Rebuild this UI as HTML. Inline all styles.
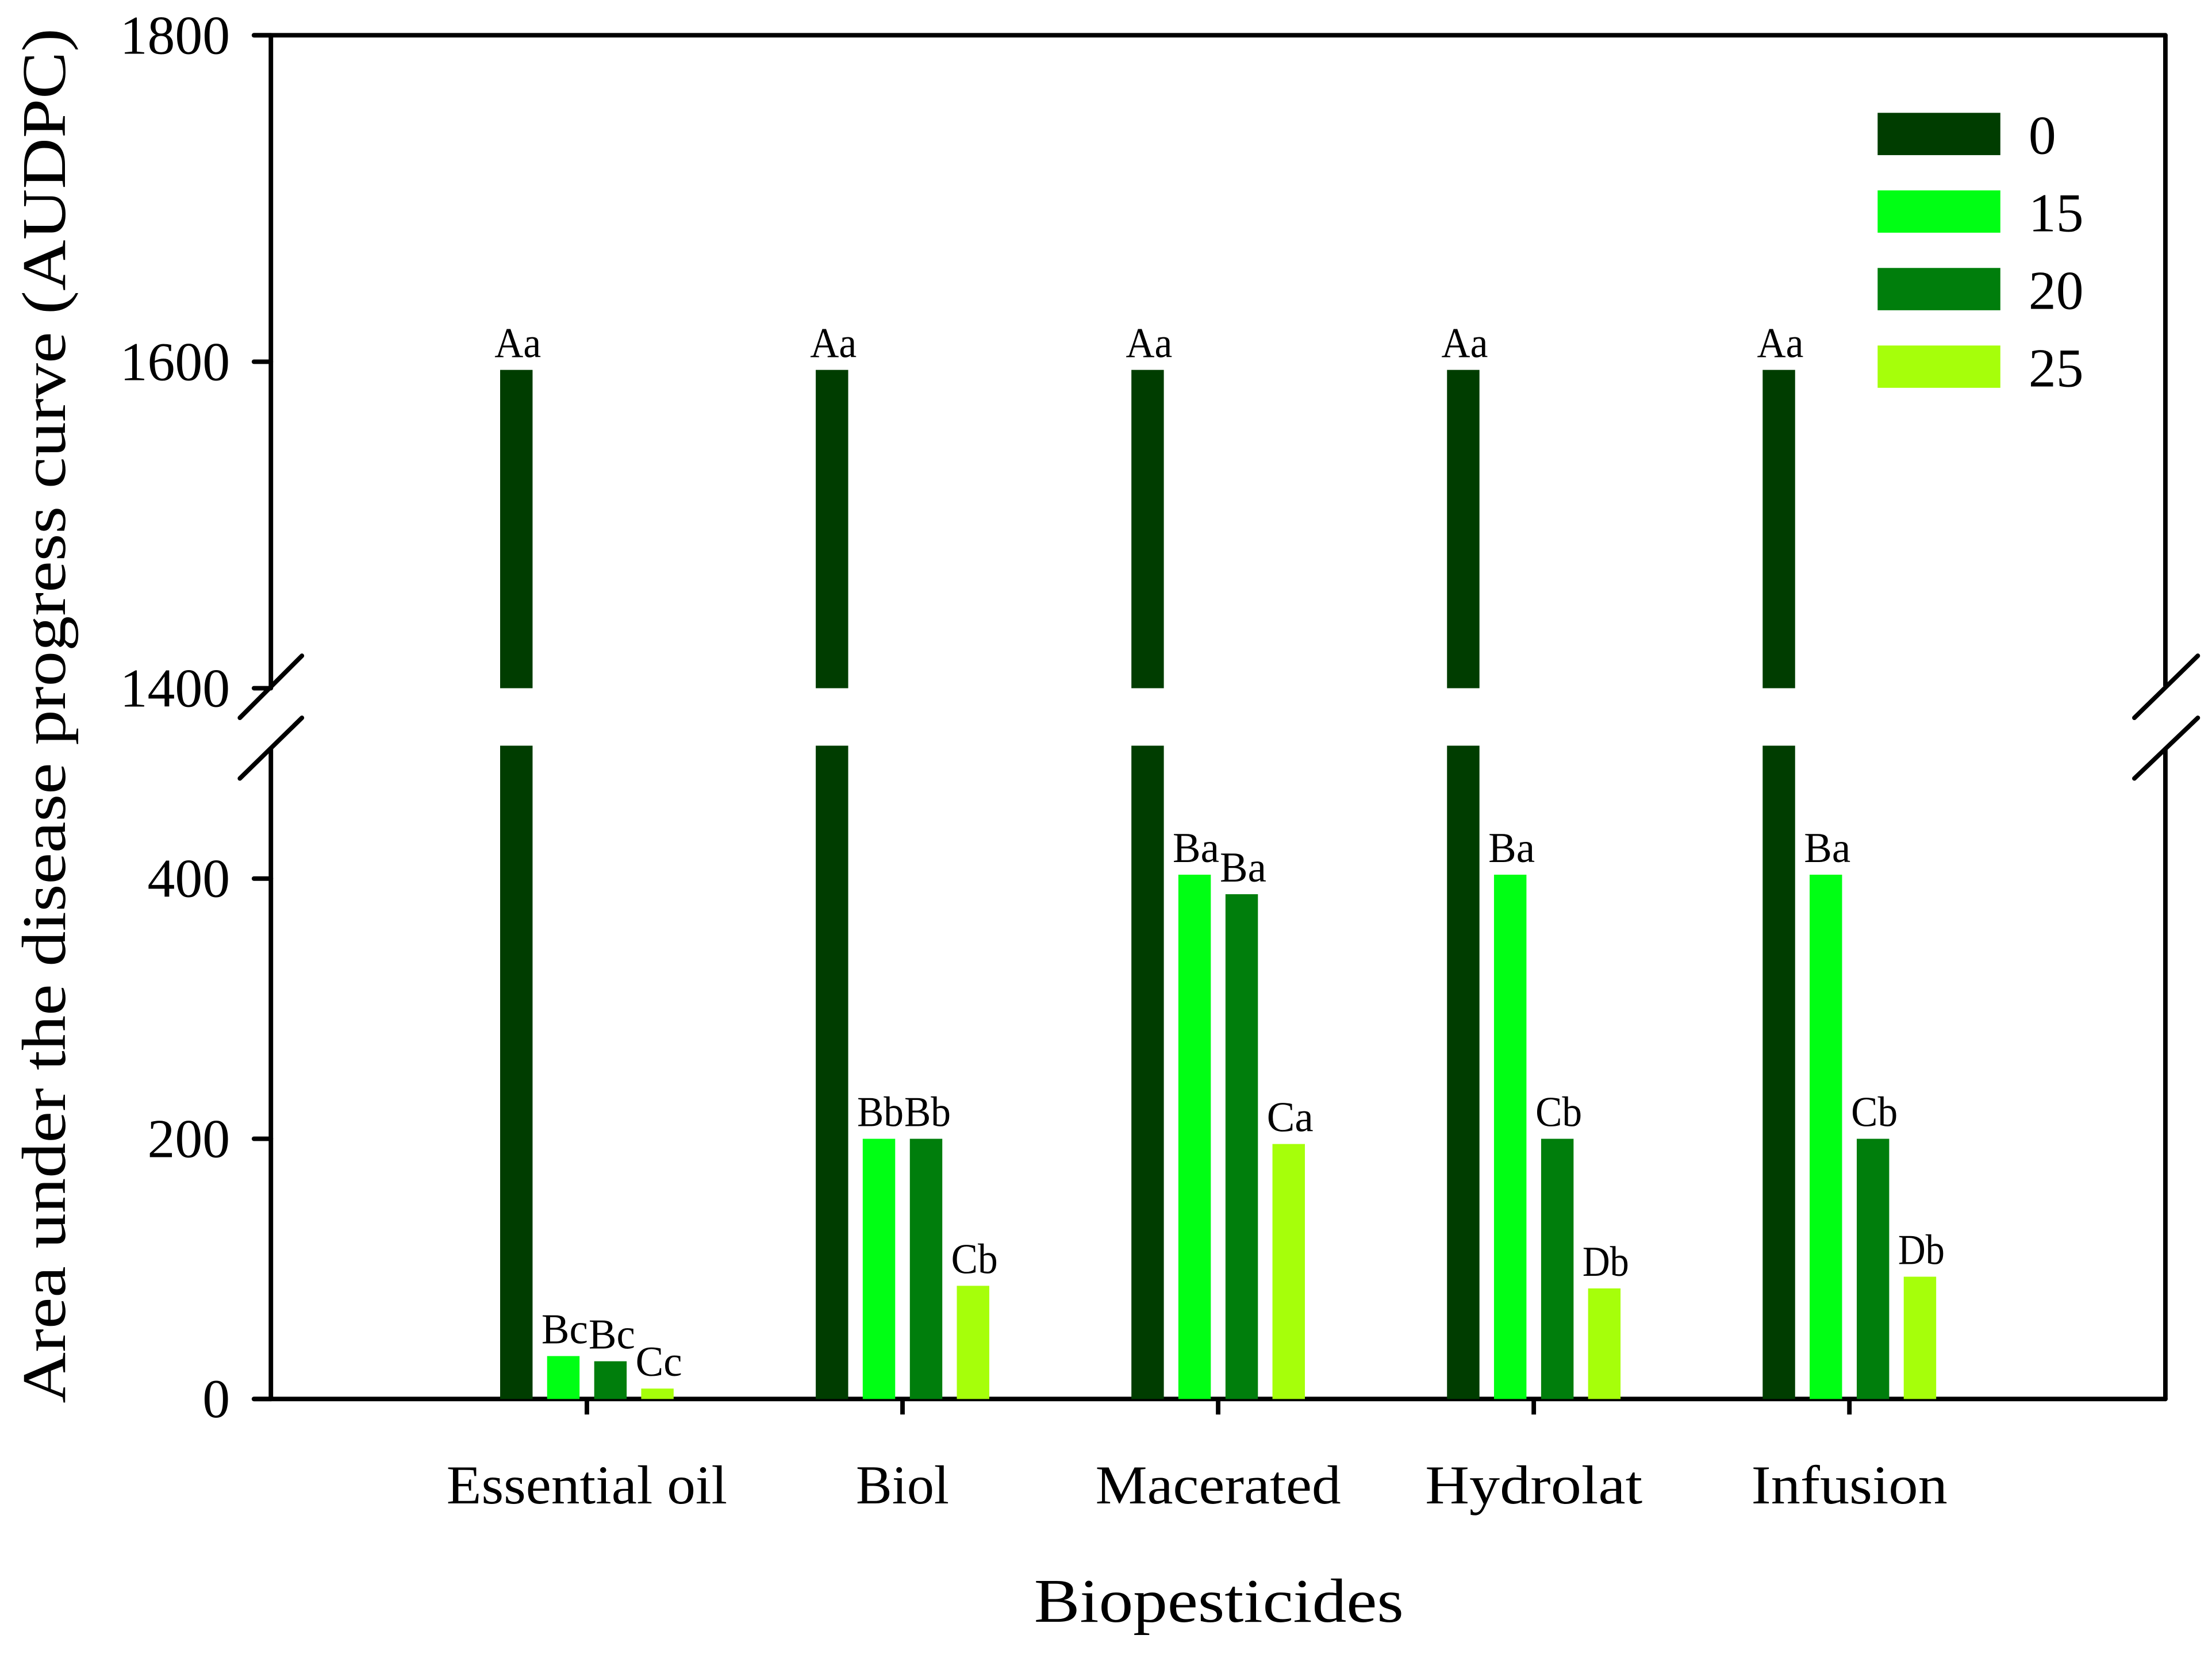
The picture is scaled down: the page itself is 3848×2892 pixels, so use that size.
<!DOCTYPE html>
<html><head><meta charset="utf-8"><style>
html,body{margin:0;padding:0;background:#fff}
svg{display:block}
text{font-family:"Liberation Serif",serif;fill:#000}
</style></head><body>
<svg id="chart" width="3848" height="2892" viewBox="0 0 1568 1178.5" xmlns="http://www.w3.org/2000/svg">
<g id="axes" stroke="#000" stroke-width="3.2" stroke-linecap="round" fill="none">
 <line x1="180" y1="25" x2="1535" y2="25"/>
 <line x1="192" y1="25" x2="192" y2="486"/>
 <line x1="192" y1="531" x2="192" y2="992"/>
 <line x1="1535" y1="25" x2="1535" y2="486"/>
 <line x1="1535" y1="531" x2="1535" y2="992"/>
 <line x1="180" y1="992" x2="1535" y2="992"/>
 <line x1="170" y1="509" x2="214" y2="465"/>
 <line x1="170" y1="552" x2="214" y2="509"/>
 <line x1="1513" y1="509" x2="1558" y2="465"/>
 <line x1="1513" y1="552" x2="1558" y2="509"/>
</g>
<g id="marks"></g>
<text x="733" y="1150" font-size="44" textLength="262" lengthAdjust="spacingAndGlyphs">Biopesticides</text>
<text transform="translate(46,995) rotate(-90)" font-size="44" textLength="975" lengthAdjust="spacingAndGlyphs">Area under the disease progress curve (AUDPC)</text>
</svg>
<script>
const categories = ["Essential oil","Biol","Macerated","Hydrolat","Infusion"];
const seriesNames = ["0","15","20","25"];
const s0 = [1595,1595,1595,1595,1595];
const s15 = [33,200,403,403,403];
const s20 = [29,200,388,200,200];
const s25 = [8,87,196,85,94];
const labels0 = ["Aa","Aa","Aa","Aa","Aa"];
const labels15 = ["Bc","Bb","Ba","Ba","Ba"];
const labels20 = ["Bc","Bb","Ba","Cb","Cb"];
const labels25 = ["Cc","Cb","Ca","Db","Db"];
const lowerTicks = [0,200,400];
const upperTicks = [1400,1600,1800];

const catWidths = [199,66,174,154,139];
const colors = ["#003d00","#00ff14","#007e0c","#a6ff0a"];
const NS = "http://www.w3.org/2000/svg";
const svg = document.getElementById("chart");
const marks = document.getElementById("marks");
function yScale(v){
  if (v <= 500) return 992 - v * 0.9225;
  return 488 - (v - 1400) * 1.1575;
}
function xGroup(i){ return 416 + i * 223.75; }
const offsets = [-50,-16.7,16.7,50];
const BW = 23;
function mk(tag, attrs){
  const e = document.createElementNS(NS, tag);
  for (const k in attrs) e.setAttribute(k, attrs[k]);
  return e;
}
lowerTicks.concat(upperTicks).forEach(t => {
  const y = yScale(t);
  const l = mk("line",{x1:180,y1:y,x2:192,y2:y,stroke:"#000","stroke-width":3.2,"stroke-linecap":"round"});
  
  
  svg.appendChild(l);
  const tx = mk("text",{x:163,y:y+13,"font-size":39,"text-anchor":"end"});
  tx.textContent = t;
  
  
  svg.appendChild(tx);
});
categories.forEach((c,i) => {
  const x = xGroup(i);
  const l = mk("line",{x1:x,y1:992,x2:x,y2:1003,stroke:"#000","stroke-width":3.2});
  
  
  svg.appendChild(l);
  const tx = mk("text",{x:x,y:1066,"font-size":39,"text-anchor":"middle","textLength":catWidths[i],"lengthAdjust":"spacingAndGlyphs"});
  tx.textContent = c;
  
  
  svg.appendChild(tx);
});
const series = [s0,s15,s20,s25];
const lbls = [labels0,labels15,labels20,labels25];
series.forEach((s,si) => {
  s.forEach((v,i) => {
    const x = xGroup(i) + offsets[si] - BW/2;
    const yTop = yScale(v);
    if (v > 500) {
      const r1 = mk("rect",{x:x,y:yScale(500)-2,width:BW,height:992-yScale(500)+2,fill:colors[si]});
      
      
      marks.appendChild(r1);
      const r2 = mk("rect",{x:x,y:yTop,width:BW,height:yScale(1400)-yTop,fill:colors[si]});
      
      
      marks.appendChild(r2);
    } else {
      const r = mk("rect",{x:x,y:yTop,width:BW,height:992-yTop,fill:colors[si]});
      
      
      marks.appendChild(r);
    }
    const t = mk("text",{x:x+BW/2+1,y:yTop-9,"font-size":30,"text-anchor":"middle","textLength":33,"lengthAdjust":"spacingAndGlyphs"});
    t.textContent = lbls[si][i];
    
    
    marks.appendChild(t);
  });
});
seriesNames.forEach((n,i) => {
  const y = 80 + i*55;
  const r = mk("rect",{x:1331,y:y,width:87,height:30,fill:colors[i]});
  
  
  svg.appendChild(r);
  const t = mk("text",{x:1438,y:y+29,"font-size":39});
  t.textContent = n;
  
  
  svg.appendChild(t);
});
</script>
</body></html>
